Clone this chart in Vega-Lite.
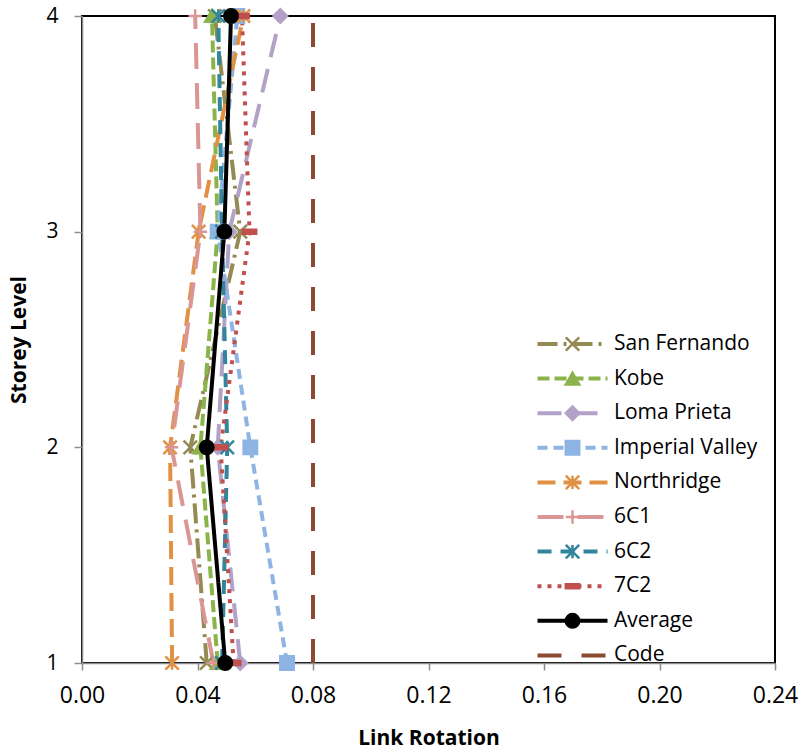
{
  "$schema": "https://vega.github.io/schema/vega-lite/v6.json",
  "width": 693,
  "height": 647,
  "autosize": {"type": "none"},
  "padding": {"left": 82, "top": 16, "right": 27, "bottom": 92},
  "background": "white",
  "config": {
    "font": "Open Sans",
    "view": {"stroke": "#000000", "strokeWidth": 2},
    "axis": {
      "grid": false,
      "domainColor": "#8c8c8c",
      "domainWidth": 1.5,
      "tickColor": "#8c8c8c",
      "tickWidth": 1.5,
      "labelColor": "#000000",
      "titleColor": "#000000",
      "labelFont": "Open Sans",
      "titleFont": "Open Sans",
      "titleFontWeight": "bold",
      "titleFontSize": 21,
      "labelFlush": false
    },
    "legend": {"labelFont": "Open Sans", "labelColor": "#000000"}
  },
  "data": {
    "values": [
      {"series": "Code", "name": "Code", "idx": 10, "storey": 1, "rot": 0.08},
      {"series": "Code", "name": "Code", "idx": 10, "storey": 4, "rot": 0.08},
      {"series": "San Fernando", "name": "San Fernando", "idx": 1, "storey": 1, "rot": 0.0432},
      {"series": "San Fernando", "name": "San Fernando", "idx": 1, "storey": 2, "rot": 0.0375},
      {"series": "San Fernando", "name": "San Fernando", "idx": 1, "storey": 3, "rot": 0.0548},
      {"series": "San Fernando", "name": "San Fernando", "idx": 1, "storey": 4, "rot": 0.046},
      {"series": "Kobe", "name": "Kobe", "idx": 2, "storey": 1, "rot": 0.047},
      {"series": "Kobe", "name": "Kobe", "idx": 2, "storey": 2, "rot": 0.041},
      {"series": "Kobe", "name": "Kobe", "idx": 2, "storey": 3, "rot": 0.047},
      {"series": "Kobe", "name": "Kobe", "idx": 2, "storey": 4, "rot": 0.045},
      {"series": "Loma Prieta", "name": "Loma Prieta", "idx": 3, "storey": 1, "rot": 0.0548},
      {"series": "Loma Prieta", "name": "Loma Prieta", "idx": 3, "storey": 2, "rot": 0.047},
      {"series": "Loma Prieta", "name": "Loma Prieta", "idx": 3, "storey": 3, "rot": 0.051},
      {"series": "Loma Prieta", "name": "Loma Prieta", "idx": 3, "storey": 4, "rot": 0.0687},
      {"series": "Imperial Valley", "name": "Imperial Valley", "idx": 4, "storey": 1, "rot": 0.071},
      {"series": "Imperial Valley", "name": "Imperial Valley", "idx": 4, "storey": 2, "rot": 0.0583},
      {"series": "Imperial Valley", "name": "Imperial Valley", "idx": 4, "storey": 3, "rot": 0.047},
      {"series": "Imperial Valley", "name": "Imperial Valley", "idx": 4, "storey": 4, "rot": 0.0538},
      {"series": "Northridge", "name": "Northridge", "idx": 5, "storey": 1, "rot": 0.0312},
      {"series": "Northridge", "name": "Northridge", "idx": 5, "storey": 2, "rot": 0.0305},
      {"series": "Northridge", "name": "Northridge", "idx": 5, "storey": 3, "rot": 0.0404},
      {"series": "Northridge", "name": "Northridge", "idx": 5, "storey": 4, "rot": 0.0559},
      {"series": "6C1", "name": "6C1", "idx": 6, "storey": 1, "rot": 0.0455},
      {"series": "6C1", "name": "6C1", "idx": 6, "storey": 2, "rot": 0.031},
      {"series": "6C1", "name": "6C1", "idx": 6, "storey": 3, "rot": 0.041},
      {"series": "6C1", "name": "6C1", "idx": 6, "storey": 4, "rot": 0.0392},
      {"series": "6C2", "name": "6C2", "idx": 7, "storey": 1, "rot": 0.0485},
      {"series": "6C2", "name": "6C2", "idx": 7, "storey": 2, "rot": 0.0503},
      {"series": "6C2", "name": "6C2", "idx": 7, "storey": 3, "rot": 0.0485},
      {"series": "6C2", "name": "6C2", "idx": 7, "storey": 4, "rot": 0.0472},
      {"series": "7C2", "name": "7C2", "idx": 8, "storey": 1, "rot": 0.0525},
      {"series": "7C2", "name": "7C2", "idx": 8, "storey": 2, "rot": 0.048},
      {"series": "7C2", "name": "7C2", "idx": 8, "storey": 3, "rot": 0.058},
      {"series": "7C2", "name": "7C2", "idx": 8, "storey": 4, "rot": 0.0554},
      {"series": "Average", "name": "Average", "idx": 9, "storey": 1, "rot": 0.0496},
      {"series": "Average", "name": "Average", "idx": 9, "storey": 2, "rot": 0.0432},
      {"series": "Average", "name": "Average", "idx": 9, "storey": 3, "rot": 0.0493},
      {"series": "Average", "name": "Average", "idx": 9, "storey": 4, "rot": 0.0516}
    ]
  },
  "layer": [
    {
      "mark": {"type": "line", "strokeWidth": 4},
      "encoding": {
        "x": {
          "field": "rot", "type": "quantitative", "title": "Link Rotation",
          "scale": {"domain": [0, 0.24], "nice": false, "zero": true},
          "axis": {"values": [0, 0.04, 0.08, 0.12, 0.16, 0.2, 0.24], "format": ".2f", "labelFontSize": 23, "tickSize": 7, "labelPadding": 14, "titlePadding": 20}
        },
        "y": {
          "field": "storey", "type": "quantitative", "title": "Storey Level",
          "scale": {"domain": [1, 4], "nice": false, "zero": false},
          "axis": {"values": [1, 2, 3, 4], "format": "d", "labelFontSize": 21, "tickSize": 8, "labelPadding": 16, "titlePadding": 16}
        },
        "order": {"field": "storey", "type": "quantitative"},
        "color": {
          "field": "series", "type": "nominal",
          "sort": {"field": "idx", "op": "min"},
          "scale": {"range": ["#948A54", "#8AB44A", "#B3A2C7", "#8EB4E3", "#E09143", "#D99694", "#31859C", "#C0504D", "#000000", "#8C4A32"]},
          "legend": {
            "orient": "none", "legendX": 453.5, "legendY": 318, "title": null, "padding": 0,
            "symbolType": "stroke", "symbolSize": 4900, "symbolStrokeWidth": 4,
            "clipHeight": 20, "rowPadding": 13.6, "labelFontSize": 21, "labelOffset": 4.5, "labelLimit": 300
          }
        },
        "strokeDash": {
          "field": "series", "type": "nominal",
          "sort": {"field": "idx", "op": "min"},
          "scale": {"range": [[20, 6, 3, 6], [12, 5], [24, 12], [10, 6], [18, 8], [26, 14], [14, 9], [4, 6], [1, 0], [24, 20]]},
          "legend": {
            "orient": "none", "legendX": 453.5, "legendY": 318, "title": null, "padding": 0,
            "symbolType": "stroke", "symbolSize": 4900, "symbolStrokeWidth": 4,
            "clipHeight": 20, "rowPadding": 13.6, "labelFontSize": 21, "labelOffset": 4.5, "labelLimit": 300
          }
        }
      }
    },
    {
      "mark": {"type": "point", "opacity": 1, "size": 180, "strokeWidth": 2.5, "filled": true},
      "encoding": {
        "x": {"field": "rot", "type": "quantitative"},
        "y": {"field": "storey", "type": "quantitative"},
        "fill": {
          "field": "name", "type": "nominal",
          "sort": {"field": "idx", "op": "min"},
          "scale": {"range": ["#948A54", "#8AB44A", "#B3A2C7", "#8EB4E3", "#E09143", "#D99694", "#31859C", "#C0504D", "#000000", "#8C4A32"]},
          "legend": {
            "orient": "none", "legendX": 453.5, "legendY": 318, "title": null, "padding": 0,
            "symbolSize": 180, "symbolStrokeWidth": 2.5, "symbolOffset": 26.5,
            "clipHeight": 20, "rowPadding": 13.6, "labelFontSize": 21, "labelExpr": "''"
          }
        },
        "stroke": {
          "field": "name", "type": "nominal",
          "sort": {"field": "idx", "op": "min"},
          "scale": {"range": ["#948A54", "#8AB44A", "#B3A2C7", "#8EB4E3", "#E09143", "#D99694", "#31859C", "#C0504D", "#000000", "#8C4A32"]},
          "legend": {
            "orient": "none", "legendX": 453.5, "legendY": 318, "title": null, "padding": 0,
            "symbolSize": 180, "symbolStrokeWidth": 2.5, "symbolOffset": 26.5,
            "clipHeight": 20, "rowPadding": 13.6, "labelFontSize": 21, "labelExpr": "''"
          }
        },
        "shape": {
          "field": "name", "type": "nominal",
          "sort": {"field": "idx", "op": "min"},
          "scale": {"range": ["M-1,-1L1,1M-1,1L1,-1", "triangle-up", "diamond", "square", "M-1,-1L1,1M-1,1L1,-1M0,-1L0,1", "M-1,0L1,0M0,-1L0,1", "M-1,-1L1,1M-1,1L1,-1M0,-1L0,1", "M-1,-0.3L1,-0.3L1,0.3L-1,0.3Z", "circle", "M0,0"]},
          "legend": {
            "orient": "none", "legendX": 453.5, "legendY": 318, "title": null, "padding": 0,
            "symbolSize": 180, "symbolStrokeWidth": 2.5, "symbolOffset": 26.5,
            "clipHeight": 20, "rowPadding": 13.6, "labelFontSize": 21, "labelExpr": "''"
          }
        }
      }
    }
  ]
}
